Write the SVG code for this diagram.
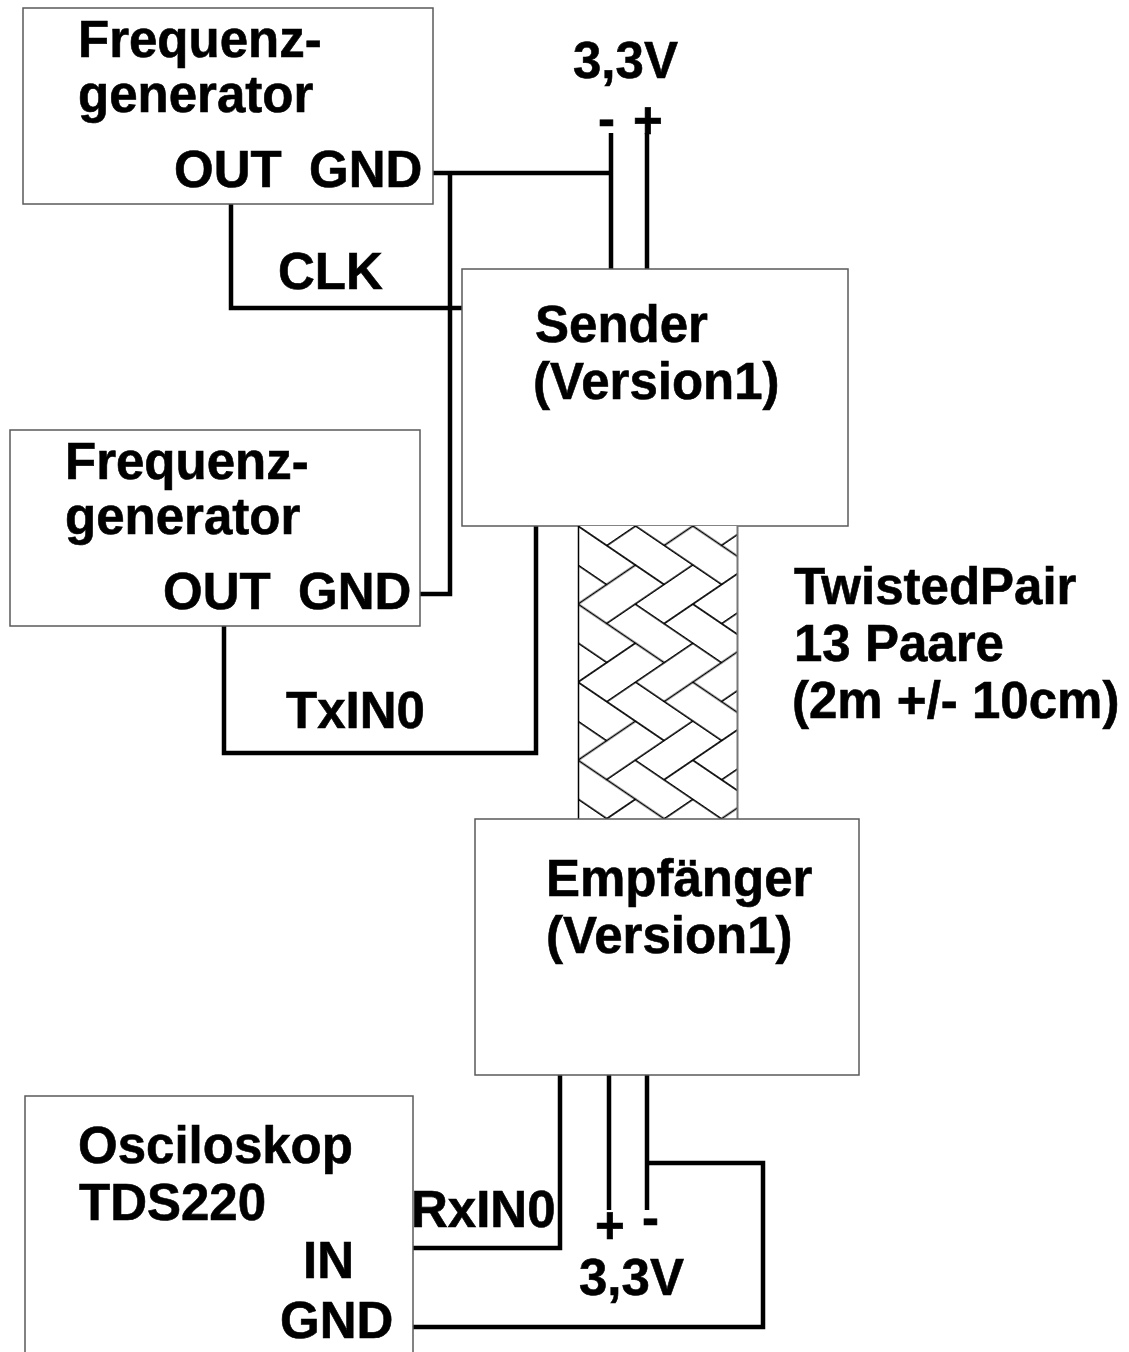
<svg xmlns="http://www.w3.org/2000/svg" width="1129" height="1352" viewBox="0 0 1129 1352">
<style>
.box{fill:#fff;stroke:#5a5a5a;stroke-width:1.5}
.t{font-family:"Liberation Sans",Arial,sans-serif;font-weight:bold;font-size:51px;fill:#000;stroke:#000;stroke-width:0.6}
.w{fill:none;stroke:#000;stroke-width:4.5;stroke-linecap:butt;stroke-linejoin:miter}
.br{fill:none;stroke:#000;stroke-width:0.04}
</style>
<defs>
<pattern id="hb" patternUnits="userSpaceOnUse" width="4" height="4" patternTransform="translate(578 526) scale(40.6 27.6) rotate(-45)">
<rect x="0" y="0" width="4" height="4" fill="#fff"/>
<g class="br">
<rect x="-1" y="-1" width="2" height="1"/><rect x="0" y="0" width="2" height="1"/><rect x="1" y="1" width="2" height="1"/><rect x="2" y="2" width="2" height="1"/><rect x="3" y="3" width="2" height="1"/><rect x="4" y="4" width="2" height="1"/><rect x="-2" y="2" width="2" height="1"/><rect x="-1" y="3" width="2" height="1"/><rect x="0" y="4" width="2" height="1"/><rect x="3" y="-1" width="2" height="1"/><rect x="4" y="0" width="2" height="1"/>
<rect x="-1" y="0" width="1" height="2"/><rect x="-1" y="4" width="1" height="2"/><rect x="0" y="1" width="1" height="2"/><rect x="1" y="2" width="1" height="2"/><rect x="1" y="-2" width="1" height="2"/><rect x="2" y="3" width="1" height="2"/><rect x="2" y="-1" width="1" height="2"/><rect x="3" y="0" width="1" height="2"/><rect x="3" y="4" width="1" height="2"/><rect x="4" y="1" width="1" height="2"/>
</g>
</pattern>
</defs>
<rect width="1129" height="1352" fill="#fff"/>

<g id="connectors">
<path class="w" d="M433,173 H613"/>
<path class="w" d="M611,133 V269"/>
<path class="w" d="M647,133 V269"/>
<path class="w" d="M450,171 V594 H420"/>
<path class="w" d="M231,204 V308 H469"/>
<path class="w" d="M224,626 V753 H536 V526"/>
<path class="w" d="M560,1075 V1248 H413"/>
<path class="w" d="M609,1075 V1210"/>
<path class="w" d="M647,1075 V1210"/>
<path class="w" d="M645,1163 H763 V1327 H413"/>
<text class="t" x="278" y="289">CLK</text>
<text class="t" x="286" y="728">TxIN0</text>
<text class="t" x="411" y="1227">RxIN0</text>
</g>

<g id="supply-top">
<text class="t" x="573" y="78">3,3V</text>
<text class="t" x="598" y="136">-</text>
<text class="t" x="633" y="138">+</text>
</g>

<g id="supply-bottom">
<text class="t" x="595" y="1243">+</text>
<text class="t" x="642" y="1235">-</text>
<text class="t" x="579" y="1295">3,3V</text>
</g>

<g id="freqgen-1">
<rect class="box" x="23" y="8" width="410" height="196"/>
<text class="t" x="78" y="57">Frequenz-</text>
<text class="t" x="78" y="112">generator</text>
<text class="t" x="174" y="187">OUT</text>
<text class="t" x="309" y="187">GND</text>
</g>

<g id="sender">
<rect class="box" x="462" y="269" width="386" height="257"/>
<text class="t" x="535" y="342">Sender</text>
<text class="t" x="533" y="399">(Version1)</text>
</g>

<g id="freqgen-2">
<rect class="box" x="10" y="430" width="410" height="196"/>
<text class="t" x="65" y="479">Frequenz-</text>
<text class="t" x="65" y="534">generator</text>
<text class="t" x="163" y="609">OUT</text>
<text class="t" x="298" y="609">GND</text>
</g>

<g id="twisted-pair">
<rect x="578" y="526" width="160" height="293" fill="url(#hb)"/>
<line x1="578.5" y1="526" x2="578.5" y2="819" stroke="#000" stroke-width="1.5"/>
<line x1="737.5" y1="526" x2="737.5" y2="819" stroke="#777" stroke-width="2"/>
<text class="t" x="794" y="604">TwistedPair</text>
<text class="t" x="794" y="661">13 Paare</text>
<text class="t" x="792" y="718">(2m +/- 10cm)</text>
</g>

<g id="empfaenger">
<rect class="box" x="475" y="819" width="384" height="256"/>
<text class="t" x="546" y="896">Empfänger</text>
<text class="t" x="546" y="953">(Version1)</text>
</g>

<g id="oszilloskop">
<rect class="box" x="25" y="1096" width="388" height="270"/>
<text class="t" x="78" y="1163">Osciloskop</text>
<text class="t" x="79" y="1220">TDS220</text>
<text class="t" x="303" y="1278">IN</text>
<text class="t" x="280" y="1338">GND</text>
</g>
</svg>
